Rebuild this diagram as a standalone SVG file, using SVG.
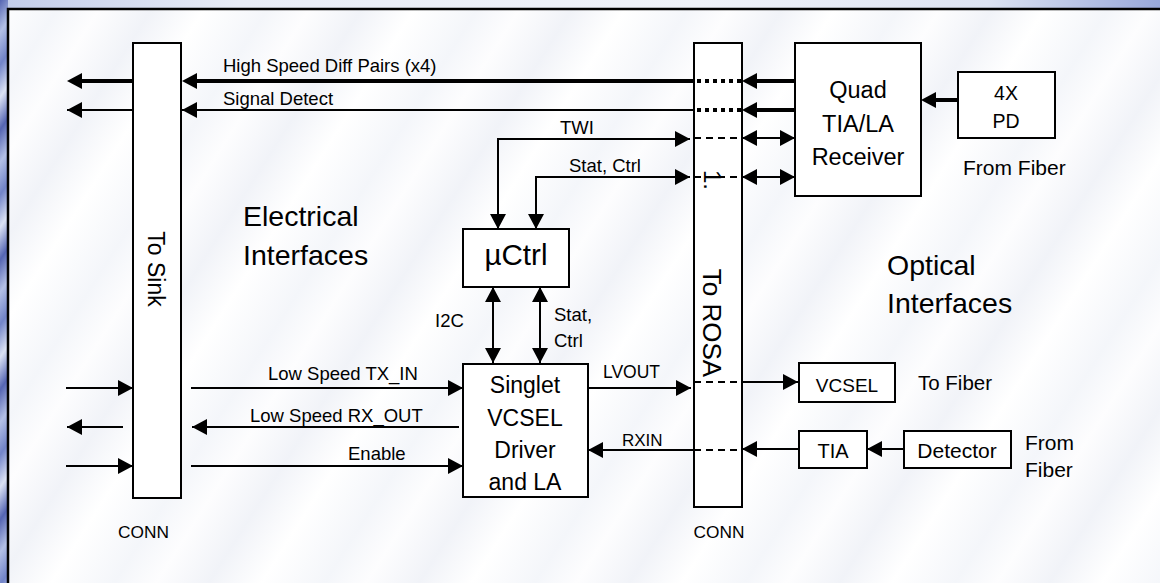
<svg xmlns="http://www.w3.org/2000/svg" width="1160" height="583" viewBox="0 0 1160 583">
<defs>
<linearGradient id="bg" gradientUnits="userSpaceOnUse" x1="0" y1="0" x2="60" y2="40" spreadMethod="repeat">
<stop offset="0" stop-color="#5565b2"/>
<stop offset="0.25" stop-color="#b3c0e6"/>
<stop offset="0.5" stop-color="#7284c8"/>
<stop offset="0.75" stop-color="#dbe2f4"/>
<stop offset="1" stop-color="#5565b2"/>
</linearGradient>
<linearGradient id="topbg" x1="0" y1="0" x2="1" y2="0">
<stop offset="0" stop-color="#c3cdea"/>
<stop offset="0.2" stop-color="#e8ecf6"/>
<stop offset="0.6" stop-color="#eff2f9"/>
<stop offset="0.85" stop-color="#dde3f2"/>
<stop offset="1" stop-color="#98a8da"/>
</linearGradient>
<linearGradient id="panel" gradientUnits="userSpaceOnUse" x1="0" y1="0" x2="150" y2="95" spreadMethod="repeat">
<stop offset="0" stop-color="#ffffff"/>
<stop offset="0.3" stop-color="#f4f6fa"/>
<stop offset="0.5" stop-color="#fdfdfe"/>
<stop offset="0.75" stop-color="#f1f3f8"/>
<stop offset="1" stop-color="#ffffff"/>
</linearGradient>
<marker id="ah" viewBox="0 0 15 16" refX="15" refY="8" markerWidth="15" markerHeight="16" markerUnits="userSpaceOnUse" orient="auto-start-reverse">
<path d="M0,0 L15,8 L0,16 z" fill="#000"/>
</marker>
<marker id="ahk" viewBox="0 0 15 16" refX="11" refY="8" markerWidth="15" markerHeight="16" markerUnits="userSpaceOnUse" orient="auto-start-reverse">
<path d="M0,0 L15,8 L0,16 z" fill="#000"/>
</marker>
<style>
.ln{stroke:#000;stroke-width:2;fill:none}
.thk{stroke-width:4}
.dot{stroke-width:4;stroke-dasharray:4 4}
.dash{stroke-dasharray:7 5}
.box{fill:#fff;stroke:#000;stroke-width:2}
.t{font-family:"Liberation Sans",Arial,sans-serif;fill:#000}
.s{font-size:18.5px}
.m{text-anchor:middle}
</style>
</defs>

<!-- background -->
<rect x="0" y="0" width="1160" height="583" fill="url(#bg)"/>
<rect x="8" y="0" width="1152" height="9" fill="url(#topbg)"/>
<rect x="8" y="9" width="1170" height="600" fill="url(#panel)" stroke="#000" stroke-width="2.5"/>

<!-- nodes -->
<g id="sink">
<rect class="box" x="133" y="43" width="48" height="455"/>
<text class="t m" font-size="23" transform="translate(148,269) rotate(90)">To Sink</text>
<text class="t m" font-size="17.3" x="143.5" y="538">CONN</text>
</g>
<g id="rosa">
<rect class="box" x="694" y="43" width="48" height="464"/>
<text class="t m" font-size="26" transform="translate(703,323) rotate(90)">To ROSA</text>
<text class="t m" font-size="17.3" x="719" y="538">CONN</text>
</g>
<g id="quad">
<rect class="box" x="795" y="43" width="126" height="153"/>
<text class="t m" font-size="23.5" x="858" y="98">Quad</text>
<text class="t m" font-size="23.5" x="858" y="132">TIA/LA</text>
<text class="t m" font-size="23.5" x="858" y="165">Receiver</text>
</g>
<g id="pd4x">
<rect class="box" x="958" y="72" width="97" height="66"/>
<text class="t m" font-size="19.5" x="1006" y="100">4X</text>
<text class="t m" font-size="19.5" x="1006" y="128">PD</text>
<text class="t" font-size="21" x="963" y="175">From Fiber</text>
</g>
<g id="uctrl">
<rect class="box" x="463" y="229" width="106" height="58"/>
<text class="t m" font-size="29.5" x="516" y="265">µCtrl</text>
</g>
<g id="singlet">
<rect class="box" x="463" y="364" width="125" height="133"/>
<text class="t m" font-size="23" x="525" y="393">Singlet</text>
<text class="t m" font-size="23" x="525" y="426">VCSEL</text>
<text class="t m" font-size="23" x="525" y="458">Driver</text>
<text class="t m" font-size="23" x="525" y="490">and LA</text>
</g>
<g id="vcsel">
<rect class="box" x="799" y="363" width="96" height="39"/>
<text class="t m" font-size="19" x="847" y="392">VCSEL</text>
<text class="t" font-size="20.5" x="918" y="390">To Fiber</text>
</g>
<g id="tia">
<rect class="box" x="799" y="431" width="68" height="37"/>
<text class="t m" font-size="20" x="833" y="458">TIA</text>
</g>
<g id="detector">
<rect class="box" x="904" y="431" width="107" height="37"/>
<text class="t m" font-size="21" x="957" y="458">Detector</text>
<text class="t" font-size="21" x="1025" y="450">From</text>
<text class="t" font-size="21" x="1025" y="477">Fiber</text>
</g>

<!-- region labels -->
<g id="labels">
<text class="t" font-size="28.5" x="243" y="226">Electrical</text>
<text class="t" font-size="28.5" x="243" y="265">Interfaces</text>
<text class="t" font-size="28.5" x="887" y="275">Optical</text>
<text class="t" font-size="28.5" x="887" y="313">Interfaces</text>
</g>

<!-- connectors -->
<g id="connectors">
<!-- high speed diff pairs -->
<path class="ln thk" d="M795 81 H746" marker-end="url(#ahk)"/>
<path class="ln dot" d="M697 81 H742"/>
<path class="ln thk" d="M693 81 H186" marker-end="url(#ahk)"/>
<path class="ln thk" d="M133 81 H71" marker-end="url(#ahk)"/>
<!-- signal detect -->
<path class="ln thk" d="M795 110 H746" marker-end="url(#ahk)"/>
<path class="ln dot" d="M697 110 H742"/>
<path class="ln" d="M693 110 H182" marker-end="url(#ah)"/>
<path class="ln" d="M133 110 H67" marker-end="url(#ah)"/>
<!-- 4X PD -->
<path class="ln thk" d="M958 100 H925" marker-end="url(#ahk)"/>
<!-- TWI -->
<path class="ln" d="M498 229 V139 H690" marker-start="url(#ah)" marker-end="url(#ah)"/>
<path class="ln dash" d="M694 138 H742"/>
<path class="ln" d="M742 138 H795" marker-start="url(#ah)" marker-end="url(#ah)"/>
<!-- Stat, Ctrl top -->
<path class="ln" d="M536 229 V177 H690" marker-start="url(#ah)" marker-end="url(#ah)"/>
<path class="ln dash" d="M694 177 H742"/>
<path class="ln" d="M742 177 H795" marker-start="url(#ah)" marker-end="url(#ah)"/>
<!-- I2C / Stat,Ctrl vertical -->
<path class="ln" d="M493 287 V363" marker-start="url(#ah)" marker-end="url(#ah)"/>
<path class="ln" d="M540 287 V363" marker-start="url(#ah)" marker-end="url(#ah)"/>
<!-- LVOUT -->
<path class="ln" d="M588 388 H691" marker-end="url(#ah)"/>
<path class="ln dash" d="M694 382 H742"/>
<path class="ln" d="M742 382 H798" marker-end="url(#ah)"/>
<!-- RXIN -->
<path class="ln" d="M694 450 H588" marker-end="url(#ah)"/>
<path class="ln dash" d="M694 450 H742"/>
<path class="ln" d="M799 449 H742" marker-end="url(#ah)"/>
<path class="ln" d="M904 449 H867" marker-end="url(#ah)"/>
<!-- low speed -->
<path class="ln" d="M66 388 H133" marker-end="url(#ah)"/>
<path class="ln" d="M191 388 H463" marker-end="url(#ah)"/>
<path class="ln" d="M123 427 H67" marker-end="url(#ah)"/>
<path class="ln" d="M459 427 H192" marker-end="url(#ah)"/>
<path class="ln" d="M66 466 H133" marker-end="url(#ah)"/>
<path class="ln" d="M191 466 H463" marker-end="url(#ah)"/>
<!-- connector labels -->
<text class="t s" x="223" y="72">High Speed Diff Pairs (x4)</text>
<text class="t s" x="223" y="105">Signal Detect</text>
<text class="t s" x="560" y="134">TWI</text>
<text class="t s" x="569" y="172">Stat, Ctrl</text>
<text class="t" font-size="24" transform="translate(704,170) rotate(90)">1.</text>
<text class="t s" x="435" y="327">I2C</text>
<text class="t s" x="554" y="321">Stat,</text>
<text class="t s" x="554" y="347">Ctrl</text>
<text class="t s" x="268" y="380">Low Speed TX_IN</text>
<text class="t s" x="250" y="422">Low Speed RX_OUT</text>
<text class="t s" x="348" y="460">Enable</text>
<text class="t" font-size="17.5" x="603" y="378">LVOUT</text>
<text class="t" font-size="17" x="622" y="446">RXIN</text>
</g>
</svg>
